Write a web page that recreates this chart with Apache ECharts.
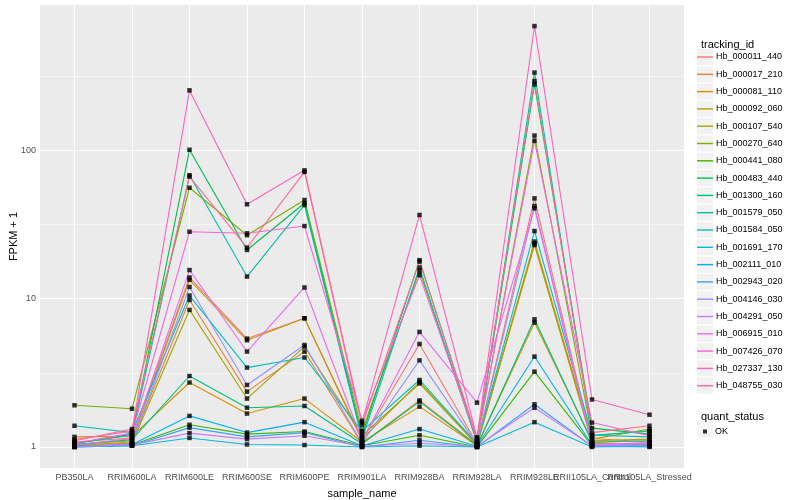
<!DOCTYPE html>
<html>
<head>
<meta charset="utf-8">
<script src="https://cdn.jsdelivr.net/npm/echarts@6/dist/echarts.min.js"></script>
<style>html,body{margin:0;padding:0;background:#fff}#c{width:800px;height:500px}</style>
</head>
<body>
<div id="c"></div>
<script>
const categories = ['PB350LA','RRIM600LA','RRIM600LE','RRIM600SE','RRIM600PE','RRIM901LA','RRIM928BA','RRIM928LA','RRIM928LE','RRII105LA_Control','RRII105LA_Stressed'];
const trackingIds = ['Hb_000011_440','Hb_000017_210','Hb_000081_110','Hb_000092_060','Hb_000107_540','Hb_000270_640','Hb_000441_080','Hb_000483_440','Hb_001300_160','Hb_001579_050','Hb_001584_050','Hb_001691_170','Hb_002111_010','Hb_002943_020','Hb_004146_030','Hb_004291_050','Hb_006915_010','Hb_007426_070','Hb_027337_130','Hb_048755_030'];
const colors = ['#F8766D','#EA8331','#D89000','#C09B00','#A3A500','#7CAE00','#39B600','#00BB4E','#00BF7D','#00C1A3','#00BFC4','#00BAE0','#00B0F6','#35A2FF','#9590FF','#C77CFF','#E76BF3','#FA62DB','#FF62BC','#FF6C91'];
const yTickValues = [1, 10, 100];

// FPKM + 1 per sample, in category order
const Hb_000011_440 = [1.08, 1.15, 13.9, 5.38, 7.38, 1.10, 4.95, 1.05, 47.5, 1.06, 1.05];
const Hb_000017_210 = [1.02, 1.08, 9.8, 2.36, 4.40, 1.05, 2.06, 1.03, 24.3, 1.14, 1.08];
const Hb_000081_110 = [1.17, 1.18, 2.72, 1.68, 2.12, 1.08, 1.87, 1.02, 6.90, 1.10, 1.13];
const Hb_000092_060 = [1.04, 1.10, 13.4, 5.24, 7.38, 1.13, 2.74, 1.04, 23.6, 1.07, 1.04];
const Hb_000107_540 = [1.03, 1.06, 8.4, 2.12, 4.75, 1.19, 2.68, 1.03, 23.0, 1.13, 1.32];
const Hb_000270_640 = [1.91, 1.81, 56.0, 26.8, 46.3, 1.28, 15.4, 1.08, 126, 1.19, 1.28];
const Hb_000441_080 = [1.02, 1.03, 1.41, 1.22, 1.27, 1.02, 1.20, 1.00, 3.22, 1.02, 1.02];
const Hb_000483_440 = [1.05, 1.22, 101, 21.3, 44.0, 1.19, 18.2, 1.10, 279, 1.34, 1.22];
const Hb_001300_160 = [1.04, 1.12, 3.01, 1.84, 1.89, 1.05, 2.02, 1.02, 7.26, 1.08, 1.10];
const Hb_001579_050 = [1.06, 1.20, 68.0, 14.1, 42.8, 1.13, 16.2, 1.07, 335, 1.20, 1.28];
const Hb_001584_050 = [1.39, 1.25, 10.5, 3.43, 4.01, 1.28, 2.83, 1.05, 28.6, 1.20, 1.17];
const Hb_001691_170 = [1.00, 1.02, 1.15, 1.04, 1.03, 1.00, 1.02, 1.00, 1.47, 1.00, 1.01];
const Hb_002111_010 = [1.01, 1.04, 1.62, 1.25, 1.47, 1.02, 1.32, 1.01, 4.07, 1.03, 1.03];
const Hb_002943_020 = [1.00, 1.02, 1.35, 1.17, 1.25, 1.00, 1.11, 1.00, 1.94, 1.01, 1.00];
const Hb_004146_030 = [1.00, 1.05, 12.0, 2.62, 4.87, 1.06, 3.84, 1.04, 42.2, 1.02, 1.06];
const Hb_004291_050 = [1.01, 1.03, 1.24, 1.13, 1.19, 1.01, 1.06, 1.01, 1.84, 1.02, 1.03];
const Hb_006915_010 = [1.03, 1.14, 15.6, 4.40, 11.9, 1.10, 5.97, 1.99, 40.7, 1.04, 1.07];
const Hb_007426_070 = [1.06, 1.24, 28.3, 27.6, 30.9, 1.50, 14.4, 1.12, 116, 1.46, 1.19];
const Hb_027337_130 = [1.12, 1.28, 254, 43.3, 73.4, 1.46, 36.7, 1.16, 690, 2.09, 1.65];
const Hb_048755_030 = [1.10, 1.32, 66.6, 22.1, 71.6, 1.40, 17.8, 1.15, 294, 1.25, 1.39];

const seriesValues = [Hb_000011_440,Hb_000017_210,Hb_000081_110,Hb_000092_060,Hb_000107_540,Hb_000270_640,Hb_000441_080,Hb_000483_440,Hb_001300_160,Hb_001579_050,Hb_001584_050,Hb_001691_170,Hb_002111_010,Hb_002943_020,Hb_004146_030,Hb_004291_050,Hb_006915_010,Hb_007426_070,Hb_027337_130,Hb_048755_030];

const lg = v => Math.log10(v);
const allLog = seriesValues.flat().map(lg);
const dMin = Math.min(...allLog), dMax = Math.max(...allLog);
const pad = (dMax - dMin) * 0.05;
const yMin = dMin - pad, yMax = dMax + pad;
const xIdx = categories.map((c, i) => i);
const xEven = xIdx.filter(i => i % 2 === 0);
const xOdd = xIdx.filter(i => i % 2 === 1);
const yTicks = yTickValues.map(lg);
const yMinor = [];
for (let i = 0; i < yTicks.length; i++) { const m = yTicks[i] + 0.5; if (m < yMax) yMinor.push(m); }

const FONT = 'Liberation Sans';
const lineSeries = trackingIds.map((id, k) => ({
  name: id, type: 'line', z: 2, xAxisIndex: 0,
  data: seriesValues[k].map((v, i) => [i, lg(v)]),
  symbol: 'none', color: colors[k],
  lineStyle: { width: 1.1, color: colors[k] },
  silent: true, animation: false
}));
const pointData = [];
seriesValues.forEach(arr => arr.forEach((v, i) => pointData.push([i, lg(v)])));

const gridLines = [];
yTicks.forEach(v => gridLines.push({ yAxis: v, lineStyle: { color: '#fff', width: 1.1, type: 'solid' } }));
yMinor.forEach(v => gridLines.push({ yAxis: v, lineStyle: { color: '#fff', width: 0.5, type: 'solid' } }));
xIdx.forEach(v => gridLines.push({ xAxis: v, lineStyle: { color: '#fff', width: 1.1, type: 'solid' } }));

const legendCommon = {
  orient: 'vertical', left: 697, top: 49, padding: 0,
  itemWidth: 16, itemGap: 1.3,
  selectedMode: false, data: trackingIds
};

const xLabelBase = { formatter: v => categories[Math.round(v)], color: '#4D4D4D', fontSize: 9, margin: 5, fontFamily: FONT,
  hideOverlap: false, showMinLabel: true, showMaxLabel: true };

const option = {
  animation: false,
  textStyle: { fontFamily: FONT },
  grid: { left: 40, right: 116, top: 5, bottom: 32, show: true, backgroundColor: '#EBEBEB', borderWidth: 0,
    containLabel: false, outerBoundsMode: 'none' },
  title: [
    { text: 'tracking_id', left: 696, top: 34, textStyle: { fontSize: 11, fontWeight: 'normal', color: '#000', fontFamily: FONT } },
    { text: 'quant_status', left: 696, top: 406, textStyle: { fontSize: 11, fontWeight: 'normal', color: '#000', fontFamily: FONT } }
  ],
  legend: [
    Object.assign({}, legendCommon, { z: 2, icon: 'rect', itemHeight: 16, formatter: () => ' ',
      itemStyle: { color: '#F2F2F2', borderWidth: 0 }, lineStyle: { width: 0 },
      textStyle: { fontSize: 9, lineHeight: 16 } }),
    Object.assign({}, legendCommon, { z: 3, icon: 'rect', itemHeight: 1.4,
      itemStyle: { borderWidth: 0 },
      textStyle: { fontSize: 9, lineHeight: 16, color: '#000', fontFamily: FONT, padding: [0, 0, 0, -2] } }),
    { orient: 'vertical', left: 697, top: 421, padding: 0, itemWidth: 16, itemHeight: 16, z: 2, icon: 'rect', selectedMode: false, data: ['OK'], formatter: () => ' ', itemStyle: { color: '#F2F2F2', borderWidth: 0 }, textStyle: { fontSize: 9, lineHeight: 16 } },
    { orient: 'vertical', left: 703, top: 427, padding: 0, itemWidth: 4, itemHeight: 4, z: 3, icon: 'rect', selectedMode: false, data: ['OK'], textStyle: { fontSize: 9, color: '#000', fontFamily: FONT, padding: [0, 0, 0, 3] } }
  ],
  xAxis: [
    {
      type: 'value', min: -0.6, max: categories.length - 0.4, position: 'bottom',
      axisLine: { show: false }, splitLine: { show: false },
      axisTick: { show: true, customValues: xIdx, length: 3, lineStyle: { color: '#333', width: 1 } },
      axisLabel: Object.assign({ customValues: xEven }, xLabelBase),
      name: 'sample_name', nameLocation: 'middle', nameGap: 20,
      nameTextStyle: { fontSize: 11, color: '#000', fontFamily: FONT }
    },
    {
      type: 'value', min: -0.6, max: categories.length - 0.4, position: 'bottom', offset: 0,
      axisLine: { show: false }, splitLine: { show: false }, axisTick: { show: false },
      axisLabel: Object.assign({ customValues: xOdd }, xLabelBase)
    }
  ],
  yAxis: {
    type: 'value', min: yMin, max: yMax,
    axisLine: { show: false }, splitLine: { show: false },
    axisTick: { show: true, customValues: yTicks, length: 3, lineStyle: { color: '#333', width: 1 } },
    axisLabel: { customValues: yTicks, formatter: v => String(Math.round(Math.pow(10, v))), color: '#4D4D4D', fontSize: 9, margin: 4, fontFamily: FONT,
      showMinLabel: true, showMaxLabel: true },
    name: 'FPKM + 1', nameLocation: 'middle', nameGap: 21, nameRotate: 90, nameMoveOverlap: false,
    nameTextStyle: { fontSize: 11, color: '#000', fontFamily: FONT }
  },
  series: [
    { name: 'grid', type: 'line', data: [], z: 1, silent: true, xAxisIndex: 0,
      markLine: { z: 1, silent: true, symbol: ['none', 'none'], label: { show: false }, animation: false, data: gridLines } }
  ].concat(lineSeries).concat([
    { name: 'OK', type: 'scatter', z: 4, xAxisIndex: 0, data: pointData, symbol: 'rect', symbolSize: 4.5, itemStyle: { color: '#000' }, silent: true, animation: false }
  ])
};
const chart = echarts.init(document.getElementById('c'));
chart.setOption(option);
</script>
</body>
</html>
